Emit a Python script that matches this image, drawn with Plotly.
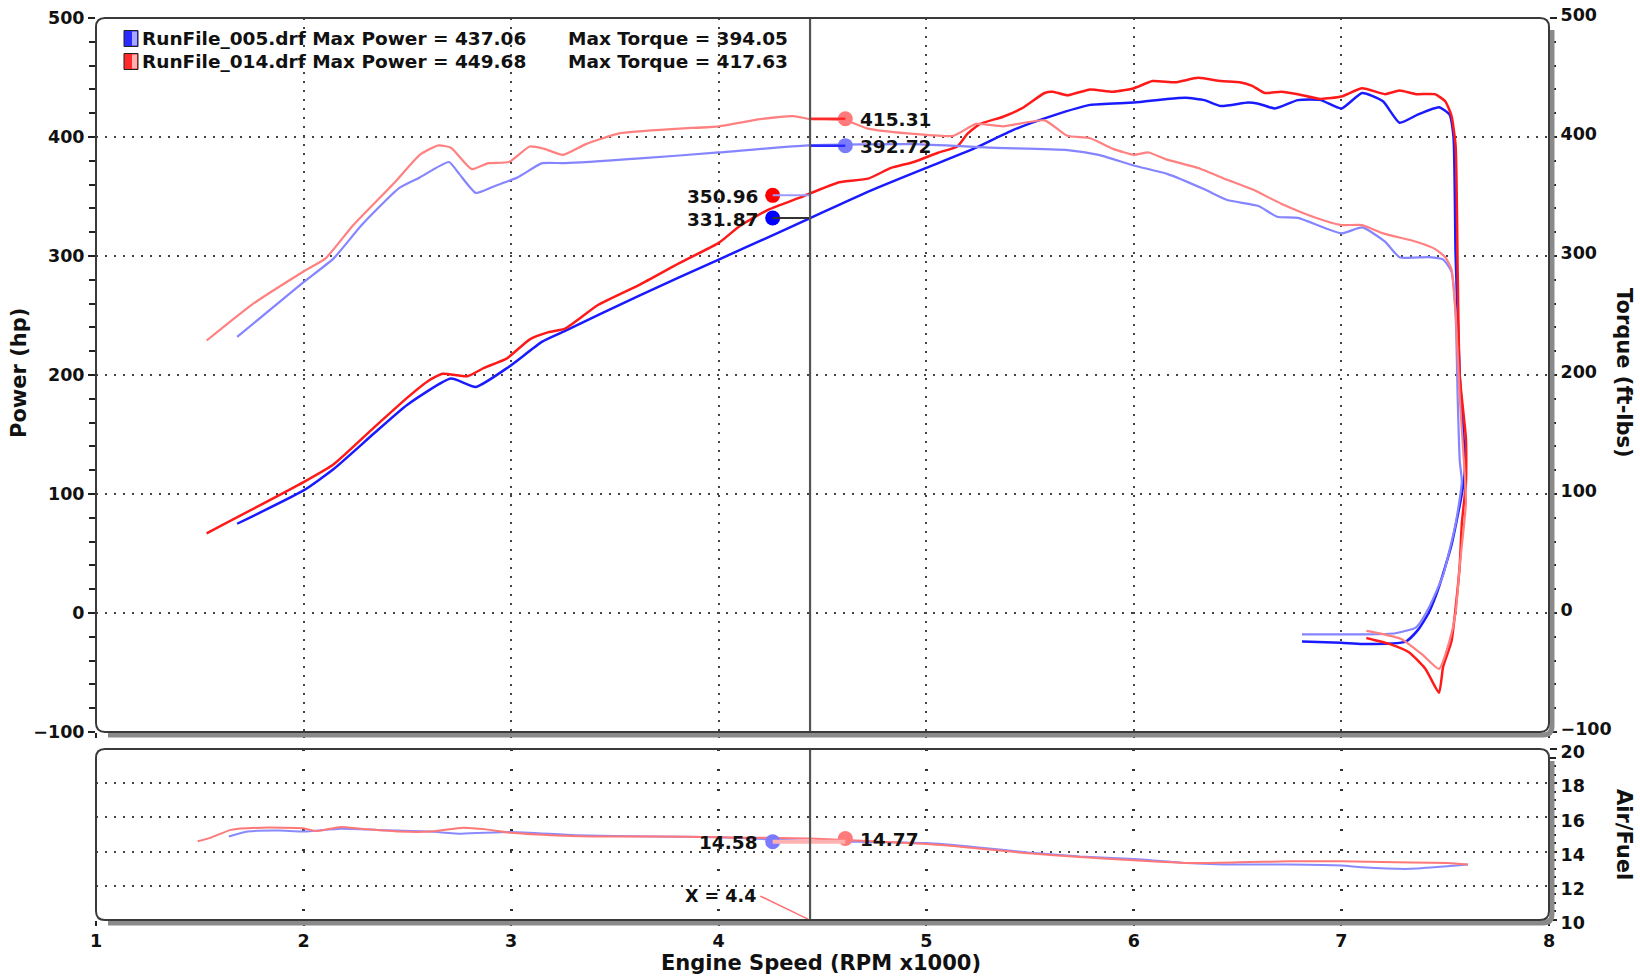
import plotly.graph_objects as go

# ---------------- data ----------------
rpm_pwr_005 = [1.68, 2.0, 2.145, 2.34, 2.5, 2.71, 2.83, 2.99, 3.15, 3.26, 3.62, 4.0, 4.28, 4.43, 4.58, 4.76, 5.0,
               5.24, 5.42, 5.61, 5.79, 6.0, 6.16, 6.25, 6.34, 6.42, 6.55, 6.6, 6.68, 6.79, 6.9, 7.0, 7.1, 7.2,
               7.28, 7.37, 7.47, 7.52, 7.54, 7.55, 7.57, 7.595, 7.58, 7.53, 7.47, 7.42, 7.37, 7.31, 7.1, 7.0, 6.81]
hp_005 = [75, 103, 121, 151, 175, 197, 190, 207, 228, 237, 267, 297, 319, 331, 343, 357, 374,
          391, 406, 418, 427, 429, 432, 433, 431, 426, 429, 428, 424, 431, 431, 424, 437, 430,
          412, 419, 425, 419, 400, 301, 200, 121, 100, 57, 22, 0, -14, -24, -26, -25, -24]

rpm_pwr_014 = [1.533, 2.0, 2.145, 2.34, 2.5, 2.6, 2.67, 2.79, 2.87, 2.98, 3.09, 3.18, 3.26, 3.42, 3.62, 3.81,
               4.0, 4.1, 4.24, 4.39, 4.58, 4.72, 4.83, 4.94, 5.06, 5.15, 5.2, 5.26, 5.37, 5.46, 5.57, 5.61,
               5.68, 5.79, 5.9, 6.0, 6.09, 6.2, 6.31, 6.42, 6.51, 6.57, 6.63, 6.71, 6.79, 6.9, 7.0, 7.1,
               7.21, 7.28, 7.36, 7.45, 7.5, 7.53, 7.55, 7.56, 7.57, 7.6, 7.6, 7.58, 7.57, 7.55, 7.53,
               7.49, 7.47, 7.405, 7.325, 7.23, 7.12]
hp_014 = [67, 110, 125, 156, 181, 195, 201, 199, 206, 214, 230, 236, 239, 259, 276, 294,
          311, 325, 339, 349, 362, 365, 374, 379, 387, 392, 403, 411, 417, 424, 437, 438,
          435, 440, 438, 441, 447, 446, 449.7, 447, 446, 443, 437, 438, 436, 432, 434, 441,
          436, 439, 436, 436, 430, 418, 393, 287, 199, 146, 110, 75, 40, 4, -24,
          -45, -67, -47, -33, -26, -21]

rpm_tq_005 = [1.68, 2.0, 2.145, 2.28, 2.46, 2.56, 2.7, 2.75, 2.83, 2.91, 3.03, 3.15, 3.26, 3.62, 4.0, 4.43,
              4.94, 5.31, 5.68, 5.83, 6.0, 6.16, 6.34, 6.45, 6.6, 6.69, 6.79, 7.0, 7.1, 7.21, 7.28, 7.42,
              7.49, 7.53, 7.55, 7.56, 7.57, 7.58, 7.55, 7.49, 7.42, 7.36, 7.26, 7.1, 6.94, 6.81]
tq_005 = [232, 278, 298, 326, 357, 366, 379, 369, 353, 358, 366, 378, 378, 382, 387, 393,
          394, 391, 389, 385, 376, 369, 356, 347, 342, 333, 332, 319, 324, 312, 299, 299,
          297, 287, 252, 181, 128, 110, 75, 32, 4, -12, -17, -18, -18, -18]

rpm_tq_014 = [1.533, 1.75, 2.0, 2.106, 2.24, 2.44, 2.56, 2.65, 2.71, 2.81, 2.89, 2.99, 3.09, 3.16, 3.25,
              3.36, 3.52, 3.81, 4.0, 4.2, 4.36, 4.44, 4.61, 4.72, 4.91, 5.13, 5.24, 5.37, 5.57, 5.68,
              5.79, 5.9, 6.0, 6.07, 6.16, 6.31, 6.45, 6.57, 6.71, 6.88, 7.0, 7.1, 7.2, 7.36, 7.45, 7.5,
              7.53, 7.55, 7.57, 7.59, 7.6, 7.57, 7.55, 7.52, 7.47, 7.39, 7.29, 7.18, 7.12]
tq_014 = [229, 259, 287, 298, 326, 362, 385, 393, 391, 373, 378, 379, 392, 390, 385,
          394, 403, 407, 409, 415, 417.6, 415, 414, 407, 403, 401, 411, 409, 414, 401,
          399, 390, 385, 387, 381, 374, 364, 356, 344, 332, 326, 326, 319, 312, 306, 299,
          289, 252, 181, 128, 93, 40, 0, -24, -47, -35, -22, -17, -15]

rpm_afr_014 = [1.49, 1.55, 1.65, 1.8, 2.0, 2.06, 2.18, 2.31, 2.46, 2.61, 2.77, 2.88, 3.0, 3.19, 3.39, 3.69,
               4.0, 4.44, 5.0, 5.24, 5.49, 5.74, 6.0, 6.25, 6.5, 6.75, 7.0, 7.26, 7.51, 7.61]
afr_014 = [14.6, 14.8, 15.27, 15.4, 15.36, 15.2, 15.44, 15.3, 15.17, 15.17, 15.4, 15.3, 15.1, 14.96, 14.88,
           14.88, 14.84, 14.77, 14.44, 14.2, 13.9, 13.68, 13.5, 13.34, 13.37, 13.43, 13.43, 13.37, 13.34, 13.24]

rpm_afr_005 = [1.64, 1.73, 1.88, 2.0, 2.18, 2.36, 2.61, 2.76, 3.0, 3.31, 3.69, 4.0, 4.44, 5.0, 5.24, 5.49,
               5.74, 6.0, 6.25, 6.5, 6.75, 7.0, 7.1, 7.33, 7.51, 7.61]
afr_005 = [14.88, 15.17, 15.23, 15.17, 15.34, 15.27, 15.17, 15.05, 15.15, 14.96, 14.88, 14.84, 14.62, 14.5,
           14.26, 13.95, 13.72, 13.57, 13.34, 13.24, 13.24, 13.18, 13.08, 12.99, 13.14, 13.24]

legend_files = ["RunFile_005.drf", "RunFile_014.drf"]
max_power = [437.06, 449.68]
max_torque = [394.05, 417.63]

cursor_rpm = 4.44
cursor_label = "X = 4.4"
cursor_power = [331.87, 350.96]     # 005, 014
cursor_torque = [392.72, 415.31]    # 005, 014
cursor_afr = [14.58, 14.77]         # 005, 014

x_ticks = [1, 2, 3, 4, 5, 6, 7, 8]
pwr_ticks = [-100, 0, 100, 200, 300, 400, 500]
afr_ticks = [10, 12, 14, 16, 18, 20]

# ---------------- styling ----------------
W, H = 1640, 977
L, R, T, B = 96, 91, 18, 57
PW, PH = W - L - R, H - T - B
TOP_BOTTOM_PX = 732
BOT_TOP_PX = 749
FONT = "DejaVu Sans"

C_P005 = "#1a1aff"
C_P014 = "#ff1a1a"
C_T005 = "#8585ff"
C_T014 = "#ff8080"
C_A005 = "#8a8aff"
C_A014 = "#ff7878"


def px_x(px):
    return (px - L) / PW


def px_y(py):
    return (H - B - py) / PH


top_dom = [px_y(TOP_BOTTOM_PX), 1.0]
bot_dom = [0.0, px_y(BOT_TOP_PX)]

fig = go.Figure()
sm = 0.5
fig.add_trace(go.Scatter(x=rpm_tq_005, y=tq_005, xaxis="x2", yaxis="y2", mode="lines",
                         line=dict(color=C_T005, width=2.2, shape="spline", smoothing=sm), showlegend=False))
fig.add_trace(go.Scatter(x=rpm_tq_014, y=tq_014, xaxis="x2", yaxis="y2", mode="lines",
                         line=dict(color=C_T014, width=2.2, shape="spline", smoothing=sm), showlegend=False))
fig.add_trace(go.Scatter(x=rpm_pwr_005, y=hp_005, xaxis="x2", yaxis="y", mode="lines",
                         line=dict(color=C_P005, width=2.5, shape="spline", smoothing=sm), showlegend=False))
fig.add_trace(go.Scatter(x=rpm_pwr_014, y=hp_014, xaxis="x2", yaxis="y", mode="lines",
                         line=dict(color=C_P014, width=2.5, shape="spline", smoothing=sm), showlegend=False))
fig.add_trace(go.Scatter(x=rpm_afr_005, y=afr_005, xaxis="x", yaxis="y3", mode="lines",
                         line=dict(color=C_A005, width=2, shape="spline", smoothing=sm), showlegend=False))
fig.add_trace(go.Scatter(x=rpm_afr_014, y=afr_014, xaxis="x", yaxis="y3", mode="lines",
                         line=dict(color=C_A014, width=2, shape="spline", smoothing=sm), showlegend=False))

# cursor value dots
x_left_dot, x_right_dot = 4.26, 4.61
shapes = []


def hline(x0, x1, y, yref, xref, color, width=2):
    shapes.append(dict(type="line", x0=x0, x1=x1, y0=y, y1=y, xref=xref, yref=yref,
                       line=dict(color=color, width=width)))


hline(cursor_rpm, x_right_dot, cursor_torque[1], "y2", "x2", "#ff2a2a", 2.5)
hline(cursor_rpm, x_right_dot, cursor_torque[0], "y2", "x2", "#2a2aff", 2.5)
hline(x_left_dot, cursor_rpm, cursor_power[1], "y", "x2", "#9a9aff", 2)
hline(x_left_dot, cursor_rpm, cursor_power[0], "y", "x2", "#333333", 2)
hline(x_left_dot, x_right_dot, cursor_afr[0], "y3", "x", "#ffb0b0", 4)

dot_specs = [
    (x_right_dot, cursor_torque[1], "x2", "y2", "#ff7a7a", "left"),
    (x_right_dot, cursor_torque[0], "x2", "y2", "#7a7aff", "left"),
    (x_left_dot, cursor_power[1], "x2", "y", "#ff0000", "right"),
    (x_left_dot, cursor_power[0], "x2", "y", "#0000ff", "right"),
    (x_left_dot, cursor_afr[0], "x", "y3", "#7a7aff", "right"),
    (x_right_dot, cursor_afr[1], "x", "y3", "#ff7a7a", "left"),
]
annotations = []
for xv, yv, xr, yr, col, side in dot_specs:
    fig.add_trace(go.Scatter(x=[xv], y=[yv], xaxis=xr, yaxis=yr, mode="markers",
                             marker=dict(color=col, size=15), showlegend=False, hoverinfo="skip"))
    annotations.append(dict(x=xv, y=yv, xref=xr, yref=yr, text=f"{yv:.2f}", showarrow=False,
                            xanchor=side, yanchor="middle", xshift=(13 if side == "left" else -13), yshift=-1,
                            font=dict(family=FONT, size=18.5, color="#111", weight="bold")))

# cursor vertical line
shapes.append(dict(type="line", x0=cursor_rpm, x1=cursor_rpm, y0=0, y1=1, xref="x2", yref="y domain",
                   line=dict(color="#555555", width=2.2)))
shapes.append(dict(type="line", x0=cursor_rpm, x1=cursor_rpm, y0=0, y1=1, xref="x", yref="y3 domain",
                   line=dict(color="#555555", width=2.2)))
# X = label + leader
shapes.append(dict(type="line", x0=4.2, x1=cursor_rpm - 0.01, y0=11.4, y1=10.05, xref="x", yref="y3",
                   line=dict(color="#ff7070", width=1.5)))
annotations.append(dict(x=4.19, y=11.4, xref="x", yref="y3", text=cursor_label, showarrow=False,
                        xanchor="right", yanchor="middle",
                        font=dict(family=FONT, size=17.5, color="#111", weight="bold")))


# frames with rounded corners and shadow
def rrect_path(x0, y0, x1, y1, r):
    rx = lambda v: f"{px_x(v):.5f}"
    ry = lambda v: f"{px_y(v):.5f}"
    return (f"M {rx(x0 + r)},{ry(y0)} L {rx(x1 - r)},{ry(y0)} Q {rx(x1)},{ry(y0)} {rx(x1)},{ry(y0 + r)} "
            f"L {rx(x1)},{ry(y1 - r)} Q {rx(x1)},{ry(y1)} {rx(x1 - r)},{ry(y1)} "
            f"L {rx(x0 + r)},{ry(y1)} Q {rx(x0)},{ry(y1)} {rx(x0)},{ry(y1 - r)} "
            f"L {rx(x0)},{ry(y0 + r)} Q {rx(x0)},{ry(y0)} {rx(x0 + r)},{ry(y0)} Z")


def shadow_path(x0, y0, x1, y1, r, off):
    rx = lambda v: f"{px_x(v):.5f}"
    ry = lambda v: f"{px_y(v):.5f}"
    X1, Y1 = x1 + off, y1 + off
    return (f"M {rx(X1)},{ry(y0 + r + off)} L {rx(X1)},{ry(Y1 - r)} Q {rx(X1)},{ry(Y1)} {rx(X1 - r)},{ry(Y1)} "
            f"L {rx(x0 + r + off)},{ry(Y1)}")


for (y0, y1) in [(T, TOP_BOTTOM_PX), (BOT_TOP_PX, H - B)]:
    shapes.append(dict(type="path", path=shadow_path(L, y0, L + PW, y1, 9, 3), xref="paper", yref="paper",
                       line=dict(color="#8a8a8a", width=5), layer="above"))
    shapes.append(dict(type="path", path=rrect_path(L, y0, L + PW, y1, 9), xref="paper", yref="paper",
                       line=dict(color="#3a3a3a", width=2), layer="above"))

# legend block
rows = [38.5, 61.5]
icon_cols = [("#2a2aff", "#a8a8ff"), ("#ff2a2a", "#ffb0b0")]
legend_font = dict(family=FONT, size=18.5, color="#111", weight="bold")
for i, yy in enumerate(rows):
    c_dark, c_light = icon_cols[i]
    shapes.append(dict(type="rect", xref="paper", yref="paper", x0=px_x(124), x1=px_x(138),
                       y0=px_y(yy + 8), y1=px_y(yy - 8), fillcolor=c_dark, line=dict(color="#222", width=1)))
    shapes.append(dict(type="rect", xref="paper", yref="paper", x0=px_x(132), x1=px_x(137),
                       y0=px_y(yy + 7), y1=px_y(yy - 7), fillcolor=c_light, line=dict(width=0)))
    annotations.append(dict(x=px_x(140), y=px_y(yy), xref="paper", yref="paper", showarrow=False,
                            xanchor="left", yanchor="middle",
                            text=f"{legend_files[i]} Max Power = {max_power[i]:.2f}", font=legend_font))
    annotations.append(dict(x=px_x(566), y=px_y(yy), xref="paper", yref="paper", showarrow=False,
                            xanchor="left", yanchor="middle",
                            text=f"Max Torque = {max_torque[i]:.2f}", font=legend_font))

# axis titles
tf = dict(family=FONT, size=21, color="#111", weight="bold")
title_specs = [
    (19, 373, "Power (hp)", -90),
    (1624, 373, "Torque (ft-lbs)", 90),
    (1624, 834, "Air/Fuel", 90),
    (821, 963, "Engine Speed (RPM x1000)", 0),
]
for xp, yp, txt, ang in title_specs:
    annotations.append(dict(x=px_x(xp), y=px_y(yp), xref="paper", yref="paper", text=txt, textangle=ang,
                            showarrow=False, xanchor="center", yanchor="middle", font=tf))

tickfont = dict(family=FONT, size=17.5, color="#111", weight="bold")
grid_dash_h = "2px,7px"
grid_col = "#444444"
minor_x = dict(dtick=0.2, ticks="outside", ticklen=4, tickcolor="#222", tickwidth=1.5, showgrid=False)

fig.update_layout(
    width=W, height=H,
    margin=dict(l=L, r=R, t=T, b=B, pad=0, autoexpand=False),
    paper_bgcolor="white", plot_bgcolor="white",
    showlegend=False,
    shapes=shapes, annotations=annotations,
    xaxis=dict(domain=[0, 1], anchor="y3", range=[1, 8], tickvals=x_ticks, ticks="outside", ticklen=5,
               tickcolor="#222", tickwidth=1.5, tickfont=tickfont, showline=False, zeroline=False,
               automargin=False,
               showgrid=True, gridcolor="#333333", gridwidth=2.5, griddash="2px,18px", minor=minor_x),
    xaxis2=dict(domain=[0, 1], anchor="y", range=[1, 8], tickvals=x_ticks, ticks="outside", ticklen=5,
                tickcolor="#222", tickwidth=1.5, showticklabels=False, showline=False, zeroline=False,
                automargin=False,
                showgrid=True, gridcolor=grid_col, gridwidth=2, griddash=grid_dash_h, matches="x", minor=minor_x),
    yaxis=dict(domain=top_dom, anchor="x2", range=[-100, 500], tickvals=pwr_ticks, ticks="outside",
               ticklen=7, tickcolor="#222", tickwidth=1.5, tickfont=tickfont, showline=False, zeroline=False,
               automargin=False,
               showgrid=True, gridcolor=grid_col, gridwidth=2, griddash=grid_dash_h,
               minor=dict(dtick=20, ticks="outside", ticklen=6, tickcolor="#222", tickwidth=1.5, showgrid=False)),
    yaxis2=dict(domain=top_dom, anchor="x2", overlaying="y", side="right", range=[-100, 500],
                tickvals=pwr_ticks, ticks="outside", ticklen=7, tickcolor="#222", tickwidth=1.5,
                tickfont=tickfont, showline=False, zeroline=False, showgrid=False, automargin=False,
                ticklabelshift=-3,
                minor=dict(dtick=20, ticks="outside", ticklen=6, tickcolor="#222", tickwidth=1.5, showgrid=False)),
    yaxis3=dict(domain=bot_dom, anchor="x", side="right", range=[10, 20], tickvals=afr_ticks,
                ticks="outside", ticklen=7, tickcolor="#222", tickwidth=1.5, tickfont=tickfont,
                showline=False, zeroline=False, showgrid=True, gridcolor=grid_col, gridwidth=2,
                griddash=grid_dash_h, automargin=False, ticklabelshift=3,
                minor=dict(dtick=0.5, ticks="outside", ticklen=6, tickcolor="#222", tickwidth=1.5, showgrid=False)),
)

fig.write_html("out.html", config={"displayModeBar": False},
               post_script="document.body.style.margin='0';document.body.style.padding='0';")
